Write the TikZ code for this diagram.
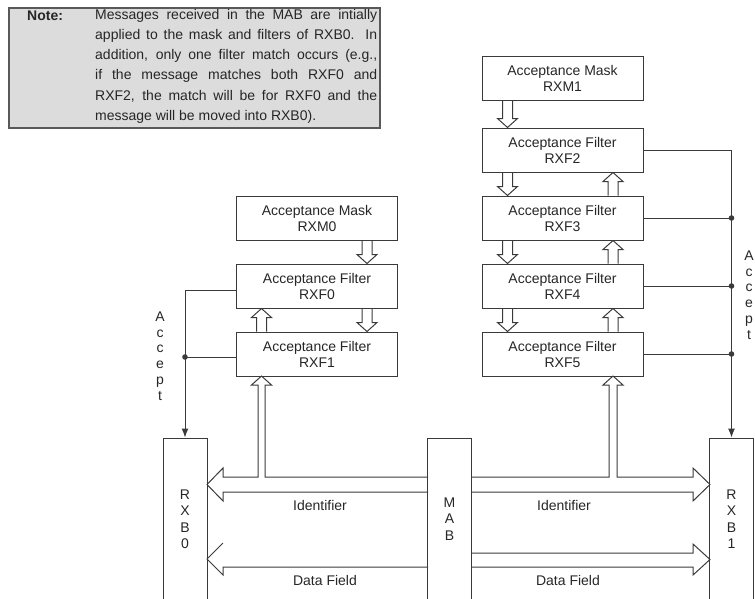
\documentclass[tikz,border=0pt]{standalone}
\usepackage{fontspec}
\setmainfont{Liberation Sans}
\usetikzlibrary{arrows.meta,calc}

\definecolor{ink}{HTML}{3A3A3A}
\definecolor{letters}{HTML}{262626}
\definecolor{notefill}{HTML}{DCDCDC}

\newcommand{\hollowdown}[3]{%
  \draw[wire] let \p1=([xshift=#1]#2.south), \p2=([xshift=#1]#3.north) in
    (\x1-5pt,\y1) -- (\x1-5pt,\y2+9pt) -- (\x1-10pt,\y2+9pt) -- (\x1,\y2)
    -- (\x1+10pt,\y2+9pt) -- (\x1+5pt,\y2+9pt) -- (\x1+5pt,\y1);}
\newcommand{\hollowup}[3]{%
  \draw[wire] let \p1=([xshift=#1]#2.north), \p2=([xshift=#1]#3.south) in
    (\x1-5pt,\y1) -- (\x1-5pt,\y2-9pt) -- (\x1-10pt,\y2-9pt) -- (\x1,\y2)
    -- (\x1+10pt,\y2-9pt) -- (\x1+5pt,\y2-9pt) -- (\x1+5pt,\y1);}

\begin{document}
\begin{tikzpicture}[x=1pt, y=-1pt,
    wire/.style={draw=ink, line width=1pt},
    box/.style={draw=ink, line width=1pt, minimum width=161pt, minimum height=44pt,
      align=center, text=letters, font=\fontsize{14}{16}\selectfont},
    buffer/.style={draw=ink, line width=1pt, minimum width=44pt, minimum height=162pt,
      align=center, text=letters, font=\fontsize{14}{16.5}\selectfont},
    label/.style={text=letters, font=\fontsize{14}{16}\selectfont},
    accept/.style={-{Latex[length=9pt,width=7pt]}, draw=ink, line width=1pt},
    dot/.style={fill=ink}]
    \useasboundingbox (0,0) rectangle (755,598);
    \clip (0,0) rectangle (755,598);

    \node (notebox) at (194.5, 68) [draw=black!65, line width=1.5pt, fill=notefill,
      minimum width=371pt, minimum height=120pt] {};
    \node (notelabel) at (27, 16) [anchor=west, inner sep=0pt, text=letters,
      font=\fontsize{14}{16}\selectfont\bfseries] {Note:};
    \node (notetext) at (95, 9) [anchor=north west, inner sep=0pt, text width=282pt,
      align=justify, text=letters, font=\fontsize{14}{20.2}\selectfont]
      {Messages received in the MAB are intially\linebreak
       applied to the mask and filters of RXB0. In\linebreak
       addition, only one filter match occurs (e.g.,\linebreak
       if the message matches both RXF0 and\linebreak
       RXF2, the match will be for RXF0 and the\linebreak
       message will be moved into RXB0).};

    \node (rxm1) at (562.5, 78) [box] {Acceptance Mask\\RXM1};
    \node (rxf2) at (562.5, 150) [box] {Acceptance Filter\\RXF2};
    \node (rxf3) at (562.5, 218) [box] {Acceptance Filter\\RXF3};
    \node (rxf4) at (562.5, 286) [box] {Acceptance Filter\\RXF4};
    \node (rxf5) at (562.5, 354) [box] {Acceptance Filter\\RXF5};

    \node (rxm0) at (317, 218) [box] {Acceptance Mask\\RXM0};
    \node (rxf0) at (317, 286) [box] {Acceptance Filter\\RXF0};
    \node (rxf1) at (317, 354) [box] {Acceptance Filter\\RXF1};

    \node (rxb0) at (185, 519) [buffer] {R\\X\\B\\0};
    \node (mab) at (449.5, 519) [buffer] {M\\A\\B};
    \node (rxb1) at (731.5, 519) [buffer] {R\\X\\B\\1};

    \hollowdown{-55pt}{rxm1}{rxf2}
    \hollowdown{-55pt}{rxf2}{rxf3}
    \hollowdown{-55pt}{rxf3}{rxf4}
    \hollowdown{-55pt}{rxf4}{rxf5}
    \hollowup{50.5pt}{rxf3}{rxf2}
    \hollowup{50.5pt}{rxf4}{rxf3}
    \hollowup{50.5pt}{rxf5}{rxf4}

    \hollowdown{50pt}{rxm0}{rxf0}
    \hollowdown{50pt}{rxf0}{rxf1}
    \hollowup{-55.5pt}{rxf1}{rxf0}

    \draw[accept] ([yshift=-4pt]rxf0.west) -| (rxb0.north);
    \draw[wire] ([yshift=-3pt]rxf1.west) -- ([yshift=-3pt]rxf1.west -| rxb0.north);
    \fill[dot] ([yshift=-3pt]rxf1.west -| rxb0.north) circle (2.8);

    \draw[accept] (rxf2.east) -| (rxb1.north);
    \draw[wire] (rxf3.east) -- (rxf3.east -| rxb1.north);
    \draw[wire] (rxf4.east) -- (rxf4.east -| rxb1.north);
    \draw[wire] (rxf5.east) -- (rxf5.east -| rxb1.north);
    \fill[dot] (rxf3.east -| rxb1.north) circle (2.8);
    \fill[dot] (rxf4.east -| rxb1.north) circle (2.8);
    \fill[dot] (rxf5.east -| rxb1.north) circle (2.8);

    \node (accept0) at (160, 356) [label, align=center, font=\fontsize{14}{15.8}\selectfont] {A\\c\\c\\e\\p\\t};
    \node (accept1) at (749, 295) [label, align=center, font=\fontsize{14}{15.8}\selectfont] {A\\c\\c\\e\\p\\t};

    \draw[wire] (428,477) -- (265,477) -- (265,385) -- (271.5,385) -- (261.5,376)
      -- (251.5,385) -- (258,385) -- (258,477) -- (223,477) -- (223,468)
      -- (207,484.5) -- (223,501) -- (223,492) -- (428,492);
    \draw[wire] (471,477) -- (609,477) -- (609,385) -- (603,385) -- (613,376)
      -- (623,385) -- (617,385) -- (617,477) -- (693,477) -- (693,468)
      -- (710,484.5) -- (693,501) -- (693,492) -- (471,492);
    \draw[wire] (428,567) -- (223,567) -- (223,575) -- (207,559) -- (223,543);
    \draw[wire] (471,553) -- (693,553) -- (693,544) -- (710,559.5) -- (693,575)
      -- (693,567) -- (471,567);

    \node (ident0) at (320, 505) [label] {Identifier};
    \node (ident1) at (564, 505) [label] {Identifier};
    \node (data0) at (325, 580) [label] {Data Field};
    \node (data1) at (568, 580) [label] {Data Field};
\end{tikzpicture}
\end{document}
